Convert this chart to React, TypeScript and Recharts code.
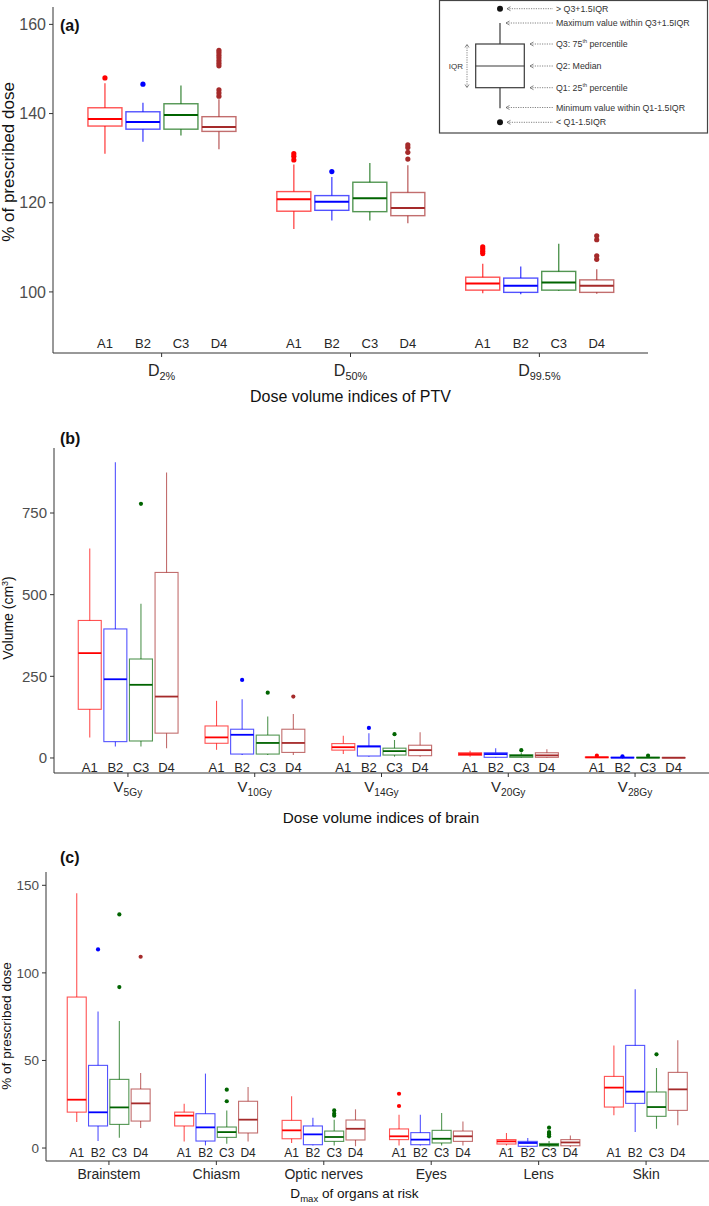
import React from 'react';
import { Bar, ComposedChart, XAxis, YAxis } from 'recharts';

const FONT = '"Liberation Sans", Arial, Helvetica, sans-serif';

const plans = ['A1', 'B2', 'C3', 'D4'];
const planColors = ['#FF0000', '#0000FF', '#006400', '#A52A2A'];

// every box is [lower whisker, Q1, median, Q3, upper whisker]

// (a) dose volume indices of PTV, % of prescribed dose
const ptvGroups = ['D2%', 'D50%', 'D99.5%'];
const ptvA1 = [[131.0, 137.2, 138.8, 141.3, 146.8], [114.1, 118.1, 120.8, 122.5, 128.6], [99.7, 100.4, 101.9, 103.3, 106.3]];
const ptvB2 = [[133.7, 136.5, 138.1, 140.4, 142.4], [116.0, 118.3, 120.2, 121.6, 125.8], [99.5, 99.9, 101.4, 103.1, 105.7]];
const ptvC3 = [[135.1, 136.5, 139.7, 142.2, 146.3], [116.0, 118.0, 121.0, 124.6, 128.9], [100.2, 100.4, 102.1, 104.6, 110.8]];
const ptvD4 = [[132.0, 136.0, 137.0, 139.3, 143.2], [115.4, 117.1, 118.8, 122.3, 128.4], [99.6, 99.9, 101.4, 102.7, 105.1]];
const ptvA1Out = [[148.0], [129.6, 130.4, 131.0], [108.6, 109.1, 109.6, 110.1]];
const ptvB2Out = [[146.6], [127.0], []];
const ptvC3Out = [[], [], []];
const ptvD4Out = [
  [143.9, 144.6, 145.3, 150.7, 151.3, 151.9, 152.5, 153.1, 153.7, 154.2],
  [129.8, 131.3, 132.4, 133.0],
  [107.3, 108.1, 111.7, 112.6],
];

// (b) dose volume indices of brain, cm3
const brainGroups = ['V5Gy', 'V10Gy', 'V14Gy', 'V20Gy', 'V28Gy'];
const brainA1 = [[63, 149, 321, 421, 641], [25, 45, 63, 98, 175], [12, 24, 33, 44, 68], [4, 8, 12, 16, 22], [0, 1, 2, 3, 4]];
const brainB2 = [[35, 50, 241, 395, 905], [9, 12, 71, 88, 180], [4, 6, 35, 37, 76], [1, 2, 12, 16, 30], [0, 0.5, 1, 2, 3]];
const brainC3 = [[35, 52, 224, 303, 472], [9, 12, 46, 70, 127], [4, 9, 21, 30, 55], [1, 2, 7, 10, 17], [0, 0.5, 1, 2, 3]];
const brainD4 = [[30, 76, 188, 568, 874], [9, 17, 46, 88, 135], [4, 7, 24, 39, 79], [1, 2, 8, 16, 27], [0, 0.3, 0.8, 1.5, 2.5]];
const brainA1Out = [[], [], [], [], [7]];
const brainB2Out = [[], [239], [92], [], [5]];
const brainC3Out = [[778], [200], [73], [24], [7]];
const brainD4Out = [[], [188], [], [], []];

// (c) Dmax of organs at risk, % of prescribed dose
const oarGroups = ['Brainstem', 'Chiasm', 'Optic nerves', 'Eyes', 'Lens', 'Skin'];
const oarA1 = [[14.8, 20.5, 27.6, 86.2, 145.5], [3.8, 12.6, 18.5, 20.5, 25.3], [2.9, 5.3, 10.1, 15.8, 29.5], [1.5, 4.8, 6.7, 10.9, 19.0], [1.5, 2.3, 3.8, 4.8, 8.6], [18.7, 23.4, 34.5, 40.9, 58.6]];
const oarB2 = [[4.0, 12.6, 20.4, 47.2, 78.0], [1.5, 4.0, 11.8, 19.6, 42.5], [1.5, 1.9, 7.8, 12.6, 17.3], [1.5, 1.9, 4.8, 8.8, 19.0], [0.6, 1.0, 2.9, 3.8, 5.7], [9.1, 25.5, 32.2, 58.6, 90.6]];
const oarC3 = [[5.9, 13.5, 23.2, 39.2, 72.5], [2.5, 6.1, 9.1, 12.0, 21.5], [1.5, 3.8, 6.3, 9.7, 16.2], [1.5, 2.9, 5.3, 10.1, 20.0], [0.6, 1.2, 1.8, 2.6, 4.0], [11.0, 18.1, 23.4, 32.0, 45.7]];
const oarD4 = [[11.4, 15.4, 25.5, 33.7, 42.8], [3.8, 8.6, 16.2, 26.7, 34.8], [1.0, 4.6, 11.0, 16.0, 22.1], [1.5, 3.8, 6.7, 9.7, 15.2], [0.6, 1.3, 3.2, 4.8, 7.2], [13.0, 21.5, 33.5, 43.2, 61.5]];
const oarA1Out = [[], [], [], [24.0, 31.0], [], []];
const oarB2Out = [[113.4], [], [], [], [], []];
const oarC3Out = [[91.9, 133.4], [26.7, 33.3], [18.5, 19.6, 21.5], [], [6.7, 7.8, 8.6, 9.1, 11.6], [53.5]];
const oarD4Out = [[109.2], [], [], [], [], []];

const ptvTicks = [100, 120, 140, 160];
const brainTicks = [0, 250, 500, 750];
const oarTicks = [0, 50, 100, 150];

function buildRows(groups: string[], boxes: number[][][], outliers: number[][][]) {
  return groups.map((group, i) => {
    const row: any = { group };
    plans.forEach((p, j) => {
      row[p] = { box: boxes[j][i], out: outliers[j][i] };
    });
    return row;
  });
}

const ptvRows = buildRows(ptvGroups, [ptvA1, ptvB2, ptvC3, ptvD4], [ptvA1Out, ptvB2Out, ptvC3Out, ptvD4Out]);
const brainRows = buildRows(brainGroups, [brainA1, brainB2, brainC3, brainD4], [brainA1Out, brainB2Out, brainC3Out, brainD4Out]);
const oarRows = buildRows(oarGroups, [oarA1, oarB2, oarC3, oarD4], [oarA1Out, oarB2Out, oarC3Out, oarD4Out]);

// the bar is the whisker range; the rest of the box is placed on that same scale
function BoxShape(props: any) {
  const { x, y, width, height, payload, plan, color, s } = props;
  const { box, out } = payload[plan];
  const [lo, q1, med, q3, hi] = box;
  const top = Math.min(y, y + height);
  const bottom = Math.max(y, y + height);
  const py = (v: number) => bottom + ((top - bottom) * (v - lo)) / (hi - lo);
  const cx = x + width / 2;
  const edge = { stroke: color, strokeOpacity: 0.68, strokeWidth: s.lineW };
  return (
    <g>
      <line x1={cx} x2={cx} y1={py(hi)} y2={py(q3)} {...edge} />
      <line x1={cx} x2={cx} y1={py(q1)} y2={py(lo)} {...edge} />
      <rect x={x} y={py(q3)} width={width} height={Math.max(py(q1) - py(q3), 0.5)} fill="none" {...edge} />
      <line x1={x} x2={x + width} y1={py(med)} y2={py(med)} stroke={color} strokeWidth={s.medianW} />
      {out.map((v: number, k: number) => (
        <circle key={k} cx={cx} cy={py(v)} r={s.dotR} fill={color} />
      ))}
      <text x={cx} y={py(s.labelAt)} textAnchor="middle" fontSize={s.planLabelSize} fill="#262626">
        {plan}
      </text>
    </g>
  );
}

function CategoryTick(props: any) {
  const { x, y, payload, s } = props;
  const label = String(payload.value);
  return (
    <text x={x} y={y + s.catDy} textAnchor="middle" fontSize={s.catSize} fill="#262626">
      {s.subscript ? (
        <>
          <tspan>{label[0]}</tspan>
          <tspan dy={4} fontSize={s.catSize * 0.68}>
            {label.slice(1)}
          </tspan>
        </>
      ) : (
        label
      )}
    </text>
  );
}

function BoxPanel({ rows, s }: { rows: any[]; s: any }) {
  const plotW = 709 - s.yAxisWidth - s.marginRight;
  const pad = (0.1 * plotW) / (rows.length + 1.2);
  return (
    <div style={{ position: 'absolute', left: 0, top: s.top }}>
      <ComposedChart
        width={709}
        height={s.height}
        data={rows}
        margin={{ top: s.marginTop, right: s.marginRight, bottom: 0, left: 0 }}
        barCategoryGap={s.barCategoryGap}
        barGap={s.barGap}
      >
        <XAxis
          dataKey="group"
          height={s.xAxisHeight}
          padding={{ left: pad, right: pad }}
          interval={0}
          tickSize={4}
          tickMargin={2}
          axisLine={{ stroke: '#333' }}
          tickLine={{ stroke: '#333' }}
          tick={(p: any) => <CategoryTick {...p} s={s} />}
        />
        <YAxis
          type="number"
          domain={s.domain}
          ticks={s.ticks}
          allowDataOverflow
          width={s.yAxisWidth}
          tickSize={4}
          tickMargin={3}
          axisLine={{ stroke: '#333' }}
          tickLine={{ stroke: '#333' }}
          tick={{ fill: '#4D4D4D', fontSize: s.yTickSize }}
        />
        {plans.map((plan, j) => (
          <Bar
            key={plan}
            dataKey={(d: any) => [d[plan].box[0], d[plan].box[4]]}
            isAnimationActive={false}
            shape={(p: any) => <BoxShape {...p} plan={plan} color={planColors[j]} s={s} />}
          />
        ))}
      </ComposedChart>
    </div>
  );
}

const ptvStyle = {
  top: 0, height: 420, marginTop: 7, marginRight: 61, xAxisHeight: 67, yAxisWidth: 53,
  domain: [86.3, 163.9], ticks: ptvTicks, yTickSize: 16,
  catSize: 16, catDy: 17, subscript: true, planLabelSize: 13, labelAt: 87.4,
  barCategoryGap: '11%', barGap: 4, lineW: 1.4, medianW: 2, dotR: 2.6,
};
const brainStyle = {
  top: 420, height: 410, marginTop: 28, marginRight: 0, xAxisHeight: 57, yAxisWidth: 54,
  domain: [-46, 949], ticks: brainTicks, yTickSize: 15,
  catSize: 15, catDy: 13, subscript: true, planLabelSize: 13, labelAt: -42,
  barCategoryGap: '10.8%', barGap: 2.6, lineW: 1.1, medianW: 1.8, dotR: 2.1,
};
const oarStyle = {
  top: 830, height: 376, marginTop: 42, marginRight: 0, xAxisHeight: 45, yAxisWidth: 46,
  domain: [-7.4, 157.6], ticks: oarTicks, yTickSize: 13.5,
  catSize: 14, catDy: 12, subscript: false, planLabelSize: 12, labelAt: -5.1,
  barCategoryGap: '11.2%', barGap: 2.3, lineW: 1.1, medianW: 1.8, dotR: 2.1,
};

const insetNotes = [
  { y: 8.7, from: 507, text: '> Q3+1.5IQR' },
  { y: 23, from: 506, text: 'Maximum value within Q3+1.5IQR' },
  { y: 44, from: 530, text: 'Q3: 75', sup: 'th', rest: ' percentile' },
  { y: 66, from: 530, text: 'Q2: Median' },
  { y: 87.7, from: 530, text: 'Q1: 25', sup: 'th', rest: ' percentile' },
  { y: 107.5, from: 506, text: 'Minimum value within Q1-1.5IQR' },
  { y: 122.3, from: 507, text: '< Q1-1.5IQR' },
];

function Inset() {
  const ink = '#3a3a3a';
  return (
    <g>
      <rect x={439.5} y={0.5} width={268} height={132.5} fill="#fff" stroke="#444" strokeWidth={1.2} />
      <circle cx={500} cy={8.7} r={3} fill="#111" />
      <circle cx={500} cy={122.3} r={3} fill="#111" />
      <line x1={500} x2={500} y1={23} y2={44} stroke={ink} strokeWidth={1.2} />
      <line x1={500} x2={500} y1={87.7} y2={108.3} stroke={ink} strokeWidth={1.2} />
      <rect x={475.7} y={44} width={48.6} height={43.7} fill="none" stroke={ink} strokeWidth={1.2} />
      <line x1={475.7} x2={524.3} y1={66} y2={66} stroke={ink} strokeWidth={1.2} />
      <text x={463} y={66} textAnchor="end" dominantBaseline="central" fontSize={8} fill="#333">
        IQR
      </text>
      <line x1={467} x2={467} y1={45} y2={87} stroke="#666" strokeWidth={0.8} strokeDasharray="1.2 1.2" />
      <path d="M465,47.5 L467,44.5 L469,47.5 M465,84.5 L467,87.5 L469,84.5" fill="none" stroke="#666" strokeWidth={0.8} />
      {insetNotes.map((n) => (
        <g key={n.y}>
          <line x1={n.from} x2={553} y1={n.y} y2={n.y} stroke="#666" strokeWidth={0.8} strokeDasharray="1.2 1.2" />
          <path d={`M${n.from + 3.5},${n.y - 2} L${n.from},${n.y} L${n.from + 3.5},${n.y + 2}`} fill="none" stroke="#666" strokeWidth={0.8} />
          <text x={556} y={n.y} dominantBaseline="central" fontSize={8.8} fill="#333">
            {n.text}
            {n.sup && (
              <>
                <tspan dy={-3} fontSize={5.5}>{n.sup}</tspan>
                <tspan dy={3}>{n.rest}</tspan>
              </>
            )}
          </text>
        </g>
      ))}
    </g>
  );
}

export default function App() {
  return (
    <div style={{ position: 'absolute', left: 0, top: 0, width: 709, height: 1206, background: '#fff', fontFamily: FONT }}>
      <BoxPanel rows={ptvRows} s={ptvStyle} />
      <BoxPanel rows={brainRows} s={brainStyle} />
      <BoxPanel rows={oarRows} s={oarStyle} />
      <svg width={709} height={1206} style={{ position: 'absolute', left: 0, top: 0, pointerEvents: 'none' }} fontFamily={FONT}>
        <text x={60} y={31} fontWeight="bold" fontSize={16} fill="#111">(a)</text>
        <text x={60} y={444} fontWeight="bold" fontSize={16} fill="#111">(b)</text>
        <text x={60} y={863} fontWeight="bold" fontSize={16} fill="#111">(c)</text>
        <text x={350.5} y={402} textAnchor="middle" fontSize={16} fill="#111">Dose volume indices of PTV</text>
        <text x={381} y={823} textAnchor="middle" fontSize={15.3} fill="#111">Dose volume indices of brain</text>
        <text x={354.5} y={1198} textAnchor="middle" fontSize={13.6} fill="#111">
          D<tspan dy={3.5} fontSize={9.5}>max</tspan>
          <tspan dy={-3.5}> of organs at risk</tspan>
        </text>
        <text transform="translate(14,162) rotate(-90)" textAnchor="middle" fontSize={17} fill="#111">
          % of prescribed dose
        </text>
        <text transform="translate(12.5,618) rotate(-90)" textAnchor="middle" fontSize={14} fill="#111">
          Volume (cm<tspan dy={-5} fontSize={9}>3</tspan>
          <tspan dy={5}>)</tspan>
        </text>
        <text transform="translate(11,1026) rotate(-90)" textAnchor="middle" fontSize={13.6} fill="#111">
          % of prescribed dose
        </text>
        <Inset />
      </svg>
    </div>
  );
}
